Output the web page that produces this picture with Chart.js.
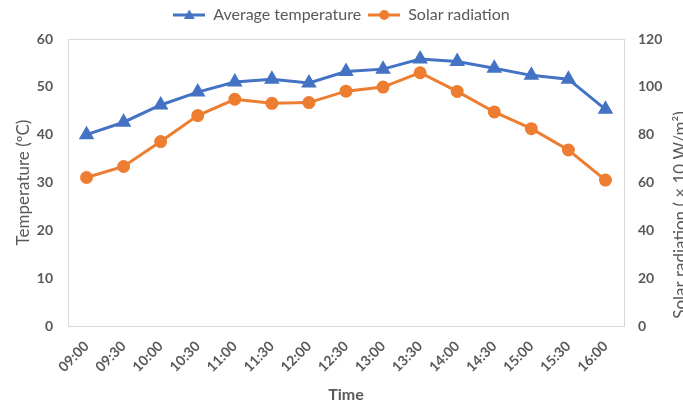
<!DOCTYPE html>
<html>
<head>
<meta charset="utf-8">
<script src="https://cdn.jsdelivr.net/npm/chart.js@4"></script>
<style>
  html, body { margin: 0; padding: 0; background: #fff; }
  #wrap { width: 683px; height: 404px; }
</style>
</head>
<body>
<div id="wrap"><canvas id="chart" width="683" height="404"></canvas></div>
<script>
// ── DATA ─────────────────────────────────────────────────────────────
const TIMES = ['09:00','09:30','10:00','10:30','11:00','11:30','12:00','12:30','13:00','13:30','14:00','14:30','15:00','15:30','16:00'];
const AVG_TEMP = [40.0, 42.6, 46.2, 48.9, 51.0, 51.6, 50.8, 53.2, 53.7, 55.8, 55.3, 53.9, 52.4, 51.6, 45.3];
const SOLAR = [62.1, 66.7, 77.1, 88.0, 94.8, 93.1, 93.4, 98.2, 99.9, 105.9, 98.1, 89.5, 82.5, 73.6, 61.0];
const TEMP_TICKS = [0, 10, 20, 30, 40, 50, 60];
const SOLAR_TICKS = [0, 20, 40, 60, 80, 100, 120];

const BLUE = '#4472C4';
const ORANGE = '#ED7D31';
const GREY = '#595959';
const FONT = 'Lato, "Open Sans", sans-serif';

// legend swatch: short line with the marker in the middle
function legendSwatch(color, style) {
  const c = document.createElement('canvas');
  c.width = 32; c.height = 14;
  const g = c.getContext('2d');
  g.strokeStyle = color; g.fillStyle = color; g.lineWidth = 3;
  g.beginPath(); g.moveTo(0, 7); g.lineTo(32, 7); g.stroke();
  g.beginPath();
  if (style === 'triangle') {
    g.moveTo(16, 1.5); g.lineTo(21.5, 11); g.lineTo(10.5, 11); g.closePath();
  } else {
    g.arc(16, 7, 5, 0, Math.PI * 2);
  }
  g.fill();
  return c;
}
const SWATCHES = [legendSwatch(BLUE, 'triangle'), legendSwatch(ORANGE, 'circle')];

// leave some room under the legend before the plot starts
const legendGap = {
  id: 'legendGap',
  afterInit(chart) {
    const lg = chart.legend;
    if (!lg) return;
    const fit = lg.fit;
    lg.fit = function () { fit.call(this); this.height += 6; };
  }
};

// thin grey frame around the plot area
const plotFrame = {
  id: 'plotFrame',
  beforeDatasetsDraw(chart) {
    const a = chart.chartArea, ctx = chart.ctx;
    ctx.save();
    ctx.strokeStyle = '#d9d9d9';
    ctx.lineWidth = 1;
    ctx.strokeRect(Math.round(a.left) + 0.5, Math.round(a.top) + 0.5, Math.round(a.right - a.left), Math.round(a.bottom - a.top));
    ctx.restore();
  }
};

// right axis title reads bottom-to-top like the left one
const rightTitle = {
  id: 'rightTitle',
  afterDraw(chart) {
    const ctx = chart.ctx;
    ctx.save();
    ctx.translate(681, 215);
    ctx.rotate(-Math.PI / 2);
    ctx.font = '17px ' + FONT;
    ctx.fillStyle = GREY;
    ctx.textAlign = 'center';
    ctx.textBaseline = 'middle';
    ctx.fillText('Solar radiation ( × 10 W/m²)', 0, 0);
    ctx.restore();
  }
};

new Chart(document.getElementById('chart'), {
  type: 'line',
  data: {
    labels: TIMES,
    datasets: [
      { label: 'Average temperature', data: AVG_TEMP, yAxisID: 'y',
        borderColor: BLUE, backgroundColor: BLUE, borderWidth: 3,
        pointStyle: 'triangle', pointRadius: 6, pointHoverRadius: 6, tension: 0 },
      { label: 'Solar radiation', data: SOLAR, yAxisID: 'y1',
        borderColor: ORANGE, backgroundColor: ORANGE, borderWidth: 3,
        pointStyle: 'circle', pointRadius: 5, pointHoverRadius: 5, tension: 0 }
    ]
  },
  options: {
    responsive: false,
    animation: false,
    layout: { padding: { top: 0, left: 0, right: 0, bottom: 0 } },
    plugins: {
      tooltip: { enabled: false },
      legend: {
        position: 'top',
        labels: {
          usePointStyle: true,
          pointStyleWidth: 32,
          padding: 7,
          color: GREY,
          font: { family: FONT, size: 16 },
          generateLabels(chart) {
            const items = Chart.defaults.plugins.legend.labels.generateLabels(chart);
            items.forEach((it, i) => { it.pointStyle = SWATCHES[i]; });
            return items;
          }
        }
      }
    },
    scales: {
      x: {
        offset: true,
        grid: { display: false, drawTicks: false },
        border: { display: false },
        ticks: { minRotation: 45, maxRotation: 45, padding: 12, color: GREY,
                 font: { family: FONT, size: 14, weight: 'bold' } },
        title: { display: true, text: 'Time', color: GREY, padding: { top: 0, bottom: 0 },
                 font: { family: FONT, size: 16, weight: 'bold' } },
        afterFit(s) { s.height = 78; }
      },
      y: {
        position: 'left',
        min: 0, max: 60,
        afterBuildTicks(s) { s.ticks = TEMP_TICKS.map(v => ({ value: v })); },
        grid: { display: false, drawTicks: false },
        border: { display: false },
        ticks: { padding: 15, color: GREY, font: { family: FONT, size: 14, weight: 'bold' } },
        title: { display: true, text: 'Temperature (ºC)', color: GREY, padding: { top: 13, bottom: 0 },
                 font: { family: FONT, size: 17 } },
        afterFit(s) { s.width = 68; }
      },
      y1: {
        position: 'right',
        min: 0, max: 120,
        afterBuildTicks(s) { s.ticks = SOLAR_TICKS.map(v => ({ value: v })); },
        grid: { display: false, drawTicks: false },
        border: { display: false },
        ticks: { padding: 14, color: GREY, font: { family: FONT, size: 14, weight: 'bold' } },
        afterFit(s) { s.width = 59; }
      }
    }
  },
  plugins: [legendGap, plotFrame, rightTitle]
});
</script>
</body>
</html>
